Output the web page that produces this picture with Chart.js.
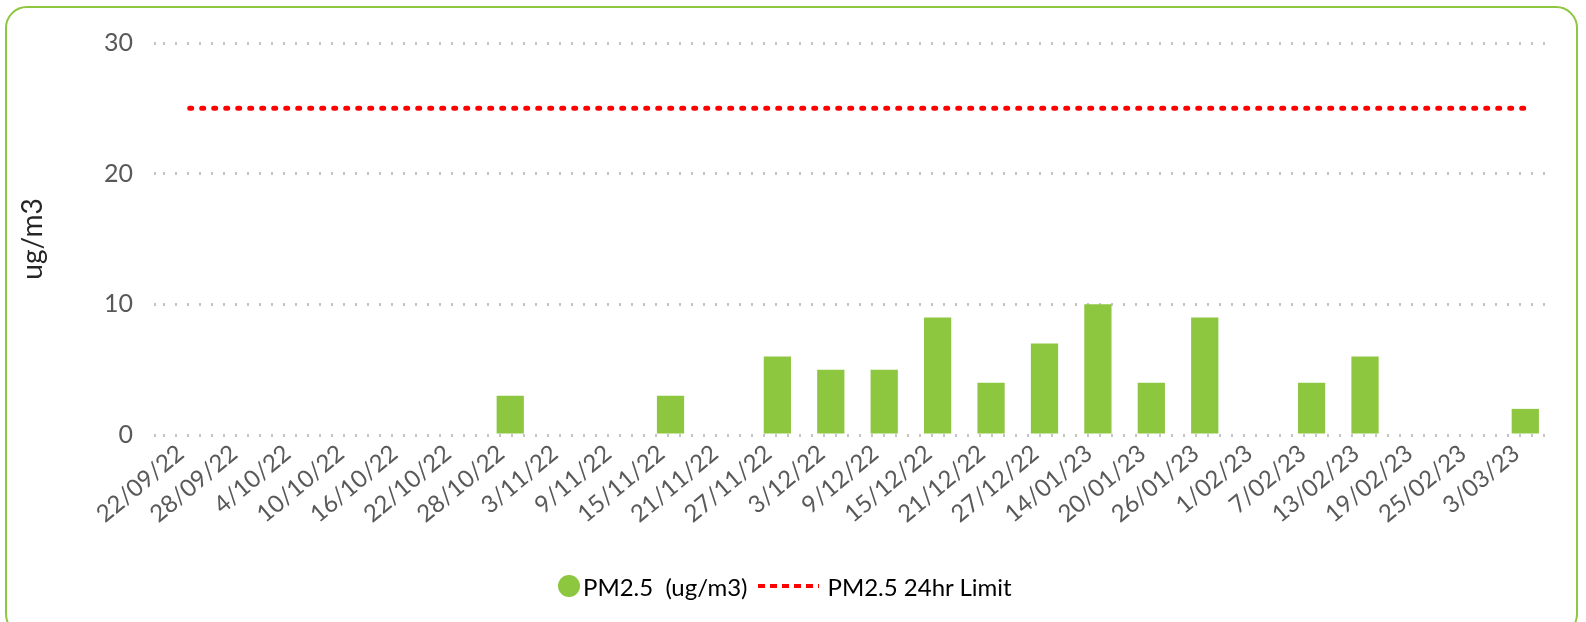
<!DOCTYPE html>
<html>
  <head>
    <meta charset="utf-8">
    <title>PM2.5</title>
    <style>
      body { margin: 0; background: #fff; overflow: hidden; }
      .marco {
        position: absolute; left: 5px; top: 6px; width: 1573px; height: 630px;
        box-sizing: border-box; border: 2.5px solid #8dc63f; border-radius: 22px;
      }
      #grafico { position: absolute; left: 0; top: 0; }
      .leyenda {
        position: absolute; left: 558px; top: 571px; height: 30px;
        display: flex; align-items: center; font-family: Lato, sans-serif;
        font-size: 24px; color: #000; white-space: pre;
      }
      .leyenda .circulo { width: 22px; height: 22px; border-radius: 50%; margin-right: 3px; }
      .leyenda .linea { width: 61px; height: 4px; margin: 0 8px 0 11px; }
    </style>
  </head>
  <body>
    <div class="marco"></div>
    <canvas id="grafico" width="1586" height="622"></canvas>
    <div id="leyenda" class="leyenda"></div>

    <script src="https://cdn.jsdelivr.net/npm/chart.js@4/dist/chart.umd.min.js"></script>
    <script>
      // datos
      var fechas = ['22/09/22', '28/09/22', '4/10/22', '10/10/22', '16/10/22', '22/10/22',
        '28/10/22', '3/11/22', '9/11/22', '15/11/22', '21/11/22', '27/11/22', '3/12/22',
        '9/12/22', '15/12/22', '21/12/22', '27/12/22', '14/01/23', '20/01/23', '26/01/23',
        '1/02/23', '7/02/23', '13/02/23', '19/02/23', '25/02/23', '3/03/23']
      var pm25 = [null, null, null, null, null, null, 3, null, null, 3, null, 6, 5,
        5, 9, 4, 7, 10, 4, 9, null, 4, 6, null, null, 2]
      var limite24h = [25, 25, 25, 25, 25, 25, 25, 25, 25, 25, 25, 25, 25,
        25, 25, 25, 25, 25, 25, 25, 25, 25, 25, 25, 25, 25]
      var ejeY = { min: 0, max: 30, paso: 10 }

      var verde = '#8dc63f'
      var rojo = '#ff0000'
      var gris = '#595959'
      var grisRejilla = '#c4c4c4'

      var ctx = document.getElementById('grafico').getContext('2d')
      var chart = new Chart(ctx, {
        type: 'bar',
        data: {
          labels: fechas,
          datasets: [{
            type: 'line',
            label: 'PM2.5 24hr Limit',
            data: limite24h,
            borderColor: rojo,
            borderWidth: 5,
            borderDash: [2, 10],
            borderCapStyle: 'round',
            pointRadius: 0,
            order: 0
          }, {
            label: 'PM2.5  (ug/m3)',
            data: pm25,
            backgroundColor: verde,
            barPercentage: 0.51,
            categoryPercentage: 1,
            order: 1
          }]
        },
        options: {
          responsive: false,
          animation: false,
          layout: { padding: { top: 43, right: 34, bottom: 97, left: 0 } },
          plugins: {
            legend: { display: false },
            tooltip: { enabled: false }
          },
          scales: {
            x: {
              offset: true,
              grid: { display: false, drawTicks: false },
              border: { display: false },
              ticks: {
                autoSkip: false, minRotation: 40, maxRotation: 40, padding: 4, labelOffset: -9,
                color: gris, font: { family: 'Lato', size: 24 }
              },
              afterFit: function (scale) { scale.height = 90 }
            },
            y: {
              min: ejeY.min,
              max: ejeY.max,
              border: { display: false, dash: [2, 10] },
              grid: {
                color: grisRejilla, lineWidth: 3,
                tickLength: 9, tickColor: grisRejilla, tickWidth: 3, tickBorderDash: [2, 10]
              },
              ticks: {
                stepSize: ejeY.paso, padding: 21,
                color: gris, font: { family: 'Lato', size: 25 }
              },
              title: {
                display: true, text: 'ug/m3', color: '#262626',
                font: { family: 'Lato', size: 28 }, padding: { top: 16, bottom: 0 }
              },
              afterFit: function (scale) { scale.width = 163 }
            }
          }
        }
      })

      // Leyenda //
      var leyenda = document.getElementById('leyenda')
      var orden = [1, 0]
      orden.forEach(function (i) {
        var ds = chart.data.datasets[i]
        var marca = document.createElement('span')
        if (ds.type === 'line') {
          marca.className = 'linea'
          marca.style.background = 'repeating-linear-gradient(to right, ' + ds.borderColor +
            ' 0 7px, transparent 7px 12px)'
        } else {
          marca.className = 'circulo'
          marca.style.background = ds.backgroundColor
        }
        var texto = document.createElement('span')
        texto.textContent = ds.label
        leyenda.appendChild(marca)
        leyenda.appendChild(texto)
      })
    </script>
  </body>
</html>
